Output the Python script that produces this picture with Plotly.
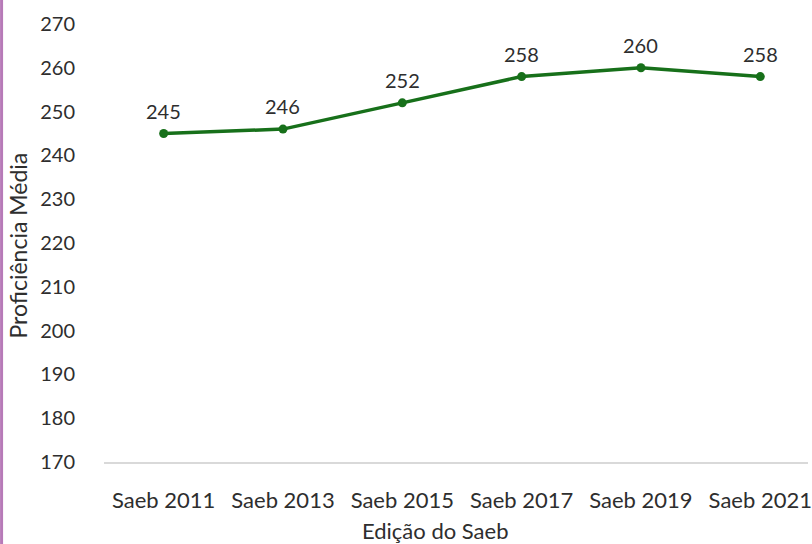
import plotly.graph_objects as go

categories = ["Saeb 2011", "Saeb 2013", "Saeb 2015", "Saeb 2017", "Saeb 2019", "Saeb 2021"]
values = [245, 246, 252, 258, 260, 258]
y_ticks = [170, 180, 190, 200, 210, 220, 230, 240, 250, 260, 270]

font_family = "Lato, 'Open Sans', sans-serif"
text_color = "#2e2e2e"
green = "#17701a"

L = 104
T = 24
B = 82
W = 812 - L
H = 544 - T - B

fig = go.Figure()
fig.add_trace(go.Scatter(
    x=categories, y=values,
    mode="lines+markers",
    line=dict(color=green, width=3.5),
    marker=dict(color=green, size=9),
    cliponaxis=False,
    hoverinfo="skip",
))

annotations = [
    dict(x=c, y=v, xref="x", yref="y", text=str(v), showarrow=False,
         yshift=23, font=dict(size=20, color=text_color, family=font_family))
    for c, v in zip(categories, values)
]
annotations.append(dict(
    x=(437 - L) / W, y=-(530 - T - H) / H, xref="paper", yref="paper",
    text="Edição do Saeb", showarrow=False, xanchor="center", yanchor="middle",
    font=dict(size=22, color=text_color, family=font_family),
))
annotations.append(dict(
    x=(18 - L) / W, y=(T + H - 245) / H, xref="paper", yref="paper",
    text="Proficiência Média", showarrow=False, textangle=-90,
    xanchor="center", yanchor="middle",
    font=dict(size=23, color=text_color, family=font_family),
))

fig.update_layout(
    width=812, height=544,
    margin=dict(l=L, r=0, t=T, b=B),
    paper_bgcolor="white", plot_bgcolor="white",
    showlegend=False,
    font=dict(family=font_family, color=text_color, size=20),
    xaxis=dict(
        type="category",
        range=[-0.5, 5.4],
        showgrid=False, zeroline=False,
        showline=True, linecolor="#d9d9d9", linewidth=2,
        ticks="outside", ticklen=18, tickcolor="rgba(0,0,0,0)",
        tickfont=dict(size=22, color=text_color),
    ),
    yaxis=dict(
        range=[170, 270],
        tickvals=y_ticks,
        showgrid=False, zeroline=False, showline=False,
        ticks="outside", ticklen=24, tickcolor="rgba(0,0,0,0)",
        tickfont=dict(size=20, color=text_color),
    ),
    annotations=annotations,
    shapes=[dict(
        type="line", xref="paper", yref="paper",
        x0=-(L - 1) / W, x1=-(L - 1) / W, y0=-B / H, y1=(H + T) / H,
        line=dict(color="#b77ab8", width=3),
    )],
)

fig.write_html("out.html")
